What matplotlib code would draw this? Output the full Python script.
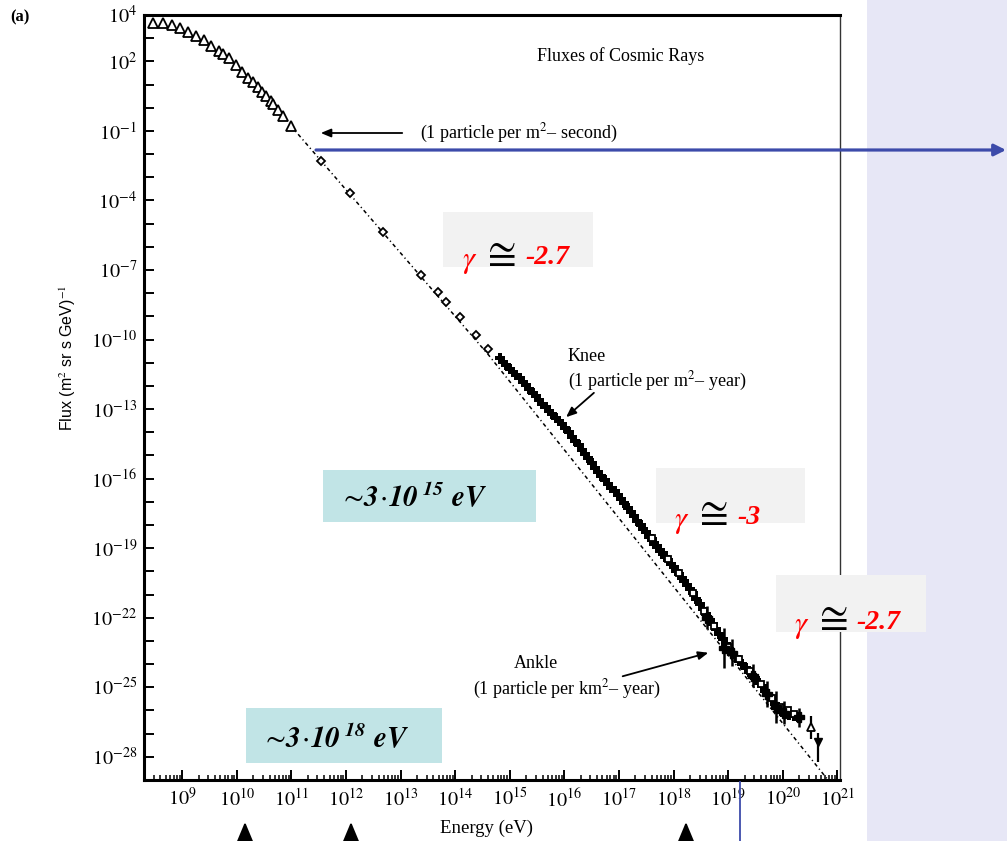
import numpy as np
import matplotlib
matplotlib.use("Agg")
import matplotlib.pyplot as plt
import matplotlib.transforms as mtransforms
from matplotlib.patches import Rectangle, FancyArrowPatch
from matplotlib.ticker import LogLocator, NullLocator, NullFormatter

plt.rcParams['mathtext.fontset'] = 'stix'
plt.rcParams['font.family'] = ['Liberation Serif', 'DejaVu Serif']

# all values are log10(E / eV) and log10(flux)
tri_logE = [8.47, 8.65, 8.82, 8.96, 9.11, 9.26, 9.39, 9.53, 9.68, 9.75, 9.86, 9.99,
            10.10, 10.21, 10.29, 10.38, 10.47, 10.54, 10.62, 10.67, 10.76, 10.84, 10.99]
tri_logF = [3.66, 3.66, 3.57, 3.44, 3.27, 3.09, 2.92, 2.66, 2.45, 2.32, 2.15, 1.84,
            1.54, 1.28, 1.11, 0.90, 0.68, 0.51, 0.29, 0.16, -0.09, -0.35, -0.78]

dia_logE = [11.55, 12.07, 12.67, 13.38, 13.69, 13.84, 14.09, 14.39, 14.61]
dia_logF = [-2.28, -3.67, -5.35, -7.20, -7.93, -8.40, -9.02, -9.80, -10.40]

knee_logE = [14.82, 14.88, 14.94, 15.00, 15.06, 15.12, 15.18, 15.24, 15.30, 15.36, 15.42,
             15.48, 15.54, 15.60, 15.66, 15.72, 15.78, 15.84, 15.90, 15.96, 16.02, 16.08,
             16.14, 16.20, 16.26, 16.32, 16.38, 16.44, 16.50, 16.56, 16.62, 16.68, 16.74,
             16.80, 16.86, 16.92, 16.98, 17.04, 17.10, 17.16, 17.22, 17.28, 17.34]
knee_logF = [-10.80, -10.95, -11.10, -11.25, -11.38, -11.52, -11.66, -11.81, -11.97, -12.13,
             -12.29, -12.45, -12.61, -12.77, -12.92, -13.07, -13.22, -13.37, -13.50, -13.63,
             -13.82, -14.00, -14.19, -14.38, -14.57, -14.75, -14.94, -15.13, -15.33, -15.52,
             -15.72, -15.90, -16.07, -16.23, -16.39, -16.55, -16.72, -16.88, -17.06, -17.25,
             -17.44, -17.63, -17.83]

ankle_logE = [17.40, 17.45, 17.50, 17.55, 17.60, 17.65, 17.70, 17.75, 17.80, 17.85, 17.90,
              17.95, 18.00, 18.05, 18.10, 18.15, 18.20, 18.25, 18.30, 18.36, 18.42, 18.48,
              18.54, 18.60, 18.66, 18.72, 18.78, 18.84, 18.90, 18.96, 19.02, 19.08, 19.14,
              19.20, 19.26, 19.32, 19.38, 19.44, 19.50, 19.56, 19.62, 19.68, 19.74, 19.80,
              19.86, 19.92, 19.98, 20.05, 20.12, 20.20, 20.28]
ankle_logF = [-18.00, -18.18, -18.30, -18.50, -18.62, -18.80, -18.92, -19.10, -19.22, -19.40,
              -19.52, -19.68, -19.80, -19.98, -20.12, -20.28, -20.40, -20.58, -20.75, -20.95,
              -21.20, -21.40, -21.62, -21.85, -22.08, -22.28, -22.50, -22.72, -22.92, -23.15,
              -23.35, -23.50, -23.68, -23.85, -24.00, -24.15, -24.32, -24.48, -24.62, -24.80,
              -24.95, -25.15, -25.35, -25.50, -25.72, -25.90, -26.05, -26.12, -26.20, -26.25,
              -26.30]

open_logE = [17.60, 17.90, 18.10, 18.35, 18.55, 18.75, 19.00, 19.20, 19.40, 19.60, 19.80,
             19.95, 20.10, 20.20]
open_logF = [-18.55, -19.45, -20.05, -20.95, -21.70, -22.35, -23.25, -23.80, -24.30, -24.85,
             -25.45, -25.85, -26.00, -26.15]

err_logE = [18.62, 18.93, 19.08, 19.45, 19.72, 19.88, 20.02, 20.30]
err_logF = [-22.00, -23.30, -23.50, -24.50, -25.30, -25.85, -26.10, -26.30]
err_dec = [0.50, 0.85, 0.60, 0.50, 0.55, 0.70, 0.50, 0.40]

top_logE = [20.51, 20.65]
top_logF = [-26.73, -27.38]
top_up = [0.47, 0.40]
top_dn = [0.52, 0.86]

ref_logE = [10.99, 14.61, 20.82]
ref_logF = [-0.78, -10.66, -28.97]

x_labels = list(range(9, 22))
y_labels = [4, 2, -1, -4, -7, -10, -13, -16, -19, -22, -25, -28]


def p(v):
    return 10.0 ** np.asarray(v, dtype=float)


W, H = 1007, 841
fig = plt.figure(figsize=(W / 100, H / 100), dpi=100)
fig.patch.set_facecolor('white')
# pixel coords measured from the top-left corner
px = mtransforms.Affine2D().scale(1 / W, -1 / H).translate(0, 1) + fig.transFigure

ax = fig.add_axes([144 / W, 1 - 780 / H, (840 - 144) / W, (780 - 15) / H])
ax.set_xscale('log')
ax.set_yscale('log')
ax.set_xlim(10 ** 8.3, 10 ** 21.05)
ax.set_ylim(1e-29, 1e4)

ax.plot(p(ref_logE), p(ref_logF), color='black', lw=1.1, ls=(0, (2.5, 2, 0.8, 2)))
ax.plot(p(tri_logE), p(tri_logF), '^', ms=6.5, mfc='white', mec='black', mew=1.3)
ax.plot(p(dia_logE), p(dia_logF), 'D', ms=4.5, mfc='white', mec='black', mew=1.3)
ax.plot(p(knee_logE), p(knee_logF), 'P', ms=7.5, color='black', mew=0)
ax.plot(p(ankle_logE), p(ankle_logF), 'P', ms=7.5, color='black', mew=0)
ax.plot(p(open_logE), p(open_logF), 's', ms=5, mfc='white', mec='black', mew=1.3)

ef = p(err_logF)
ed = np.asarray(err_dec)
ax.errorbar(p(err_logE), ef, yerr=[ef - ef * 10 ** -ed, ef * 10 ** ed - ef],
            fmt='P', ms=7.5, color='black', elinewidth=1.8, capsize=0)
tf = p(top_logF)
ax.errorbar(p(top_logE[:1]), tf[:1],
            yerr=[tf[:1] - tf[:1] * 10 ** -np.asarray(top_dn[:1]),
                  tf[:1] * 10 ** np.asarray(top_up[:1]) - tf[:1]],
            fmt='^', ms=6, mfc='white', mec='black', mew=1.3, ecolor='black',
            elinewidth=1.6, capsize=0)
ax.errorbar(p(top_logE[1:]), tf[1:],
            yerr=[tf[1:] - tf[1:] * 10 ** -np.asarray(top_dn[1:]),
                  tf[1:] * 10 ** np.asarray(top_up[1:]) - tf[1:]],
            fmt='v', ms=6, color='black', elinewidth=1.6, capsize=0)

# ticks
ax.set_xticks(p(x_labels))
ax.set_xticklabels([f'$10^{{{k}}}$' for k in x_labels])
ax.xaxis.set_minor_locator(LogLocator(base=10, subs=np.arange(2, 10), numticks=60))
ax.xaxis.set_minor_formatter(NullFormatter())
yk = list(range(-28, 5))
ax.set_yticks(p(yk))
ax.set_yticklabels([f'$10^{{{k}}}$' if k in y_labels else '' for k in yk])
ax.yaxis.set_minor_locator(NullLocator())
ax.tick_params(which='both', direction='in', top=False, right=False)
ax.tick_params(which='major', length=7, width=1.4, labelsize=14.5, color='black')
ax.tick_params(which='minor', length=3.5, width=1.1)
ax.tick_params(axis='x', pad=6)
ax.tick_params(axis='y', pad=5)
for s in ['left', 'bottom', 'top']:
    ax.spines[s].set_linewidth(2.2)
ax.spines['right'].set_linewidth(1.0)
ax.spines['right'].set_color('#333333')

# right lavender panel
fig.add_artist(Rectangle((867, 0), 140, 841, transform=px, facecolor='#E7E7F6',
                         edgecolor='none', zorder=1))

# scanned-figure texts
fig.text(10, 17, '(a)', transform=px, fontsize=12, fontweight='bold', va='center')
fig.text(621, 56, 'Fluxes of Cosmic Rays', transform=px, fontsize=13, ha='center', va='center')
fig.text(420, 133, '(1 particle per m$^2$– second)', transform=px, fontsize=13, va='center')
fig.text(568, 357, 'Knee', transform=px, fontsize=13, va='center')
fig.text(568, 381, '(1 particle per m$^2$– year)', transform=px, fontsize=13, va='center')
fig.text(536, 664, 'Ankle', transform=px, fontsize=13, ha='center', va='center')
fig.text(567, 689, '(1 particle per km$^2$– year)', transform=px, fontsize=13,
         ha='center', va='center')
fig.text(486, 828, 'Energy (eV)', transform=px, fontsize=13.5, ha='center', va='center')
fig.text(68, 358, 'Flux (m$^2$ sr s GeV)$^{-1}$', transform=px, fontsize=11.5,
         family=['Liberation Sans', 'DejaVu Sans'], rotation=90, ha='center', va='center')

for a, b in [((405, 133), (318, 133)), ((596, 391), (564, 419)), ((620, 677), (711, 652))]:
    fig.add_artist(FancyArrowPatch(a, b, transform=px, arrowstyle='-|>,head_length=6,head_width=2.5',
                                   color='black', lw=1.3, zorder=4))

# blue overlay lines
fig.add_artist(FancyArrowPatch((316, 150), (1006, 150), transform=px,
                               arrowstyle='-|>,head_length=7,head_width=3.5',
                               color='#3D4BAA', lw=2.3, zorder=6, shrinkA=0, shrinkB=0))
fig.add_artist(plt.Line2D([740, 740], [782, 841], transform=px, color='#3D4BAA', lw=1.3, zorder=6))

# black arrows at the bottom
for x in [245, 351, 686]:
    fig.add_artist(FancyArrowPatch((x, 880), (x, 822), transform=px,
                                   arrowstyle='-|>,head_length=12,head_width=5',
                                   color='black', lw=1.5, zorder=6, shrinkA=0, shrinkB=0))

# gamma boxes
gamma_boxes = [((443, 212, 150, 55), (470, 262), (498, 255), (525, 258), '-2.7'),
               ((656, 468, 149, 55), (682, 522), (710, 514), (737, 518), '-3'),
               ((776, 575, 150, 57), (802, 627), (830, 619), (856, 623), '-2.7')]
for (bx, by, bw, bh), g, c, t, lab in gamma_boxes:
    fig.add_artist(Rectangle((bx, by + bh), bw, -bh, transform=px, facecolor='#F2F2F2',
                             edgecolor='none', zorder=5))
    fig.text(*g, r'$\gamma$', transform=px, fontsize=22, color='red', ha='center',
             va='center', zorder=7)
    fig.text(*c, r'$\cong$', transform=px, fontsize=30, color='black', ha='center',
             va='center', zorder=7)
    fig.text(*t, lab, transform=px, fontsize=20, color='red', fontweight='bold',
             fontstyle='italic', ha='left', va='center', zorder=7)

# energy boxes
for (bx, by, bw, bh), (tx, ty), e in [((323, 470, 213, 52), (413, 497), '15'),
                                      ((246, 708, 196, 55), (335, 738), '18')]:
    fig.add_artist(Rectangle((bx, by + bh), bw, -bh, transform=px, facecolor='#C1E4E6',
                             edgecolor='none', zorder=5))
    fig.text(tx, ty, r'$\sim\!\mathbfit{3}\!\cdot\!\mathbfit{10}^{\mathbfit{\ ' + e + r'}}\mathbfit{\ eV}$',
             transform=px, fontsize=21, ha='center', va='center', zorder=7)

fig.savefig('out.png', dpi=100, facecolor='white')
